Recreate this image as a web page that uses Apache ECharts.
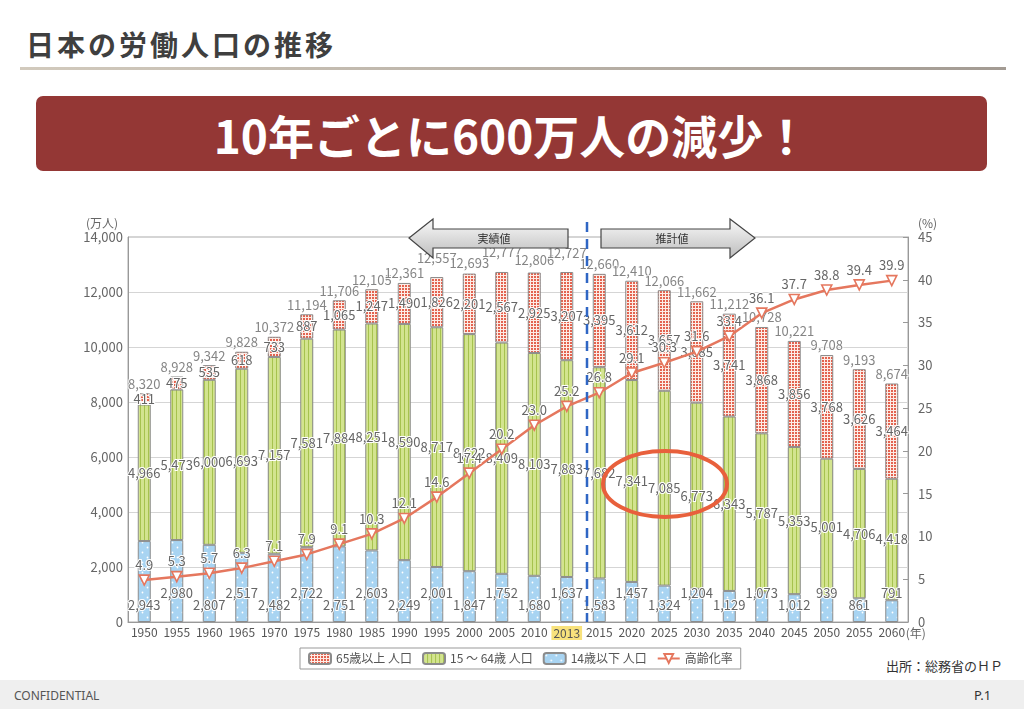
<!DOCTYPE html>
<html>
<head>
<meta charset="utf-8">
<title>日本の労働人口の推移</title>
<script src="https://cdn.jsdelivr.net/npm/echarts@6/dist/echarts.min.js"></script>
<style>
  html, body { margin: 0; padding: 0; background: #fff; }
  body { width: 1024px; height: 709px; position: relative; overflow: hidden;
         font-family: "Noto Sans CJK JP", "Noto Sans", sans-serif; }
  .title { position: absolute; left: 26px; top: 29px; font-size: 28px; line-height: 30px;
           font-weight: bold; color: #3f3f3f; letter-spacing: 3px; }
  .rule { position: absolute; left: 20px; top: 67px; width: 986px; height: 3px;
          background: linear-gradient(to right, #d2cabd, #a39b93); }
  .banner { position: absolute; left: 36px; top: 96px; width: 951px; height: 75px;
            background: #943735; border-radius: 7px; color: #fff; font-size: 46px;
            font-weight: bold; display: flex; align-items: center; justify-content: center; }
  .source { position: absolute; left: 886px; top: 656px; font-size: 13px; color: #333; }
  .footer { position: absolute; left: 0; top: 680px; width: 1024px; height: 29px; background: #efefef; }
  .conf { position: absolute; left: 14px; top: 687px; font-size: 12px; color: #555; font-family: "Noto Sans", sans-serif; }
  .page { position: absolute; left: 974px; top: 686px; font-size: 13px; color: #333; font-family: "Noto Sans", sans-serif; }
  #main { position: absolute; left: 0; top: 0; width: 1024px; height: 709px; }
</style>
</head>
<body>
<div class="title">日本の労働人口の推移</div>
<div class="rule"></div>
<div class="banner">10年ごとに600万人の減少！</div>
<div class="footer"></div>
<div class="conf">CONFIDENTIAL</div>
<div class="page">P.1</div>
<div class="source">出所：総務省のＨＰ</div>
<div id="main"></div>

<script type="text/javascript">
// 年
var years = ['1950', '1955', '1960', '1965', '1970', '1975', '1980', '1985', '1990', '1995',
             '2000', '2005', '2010', '2013', '2015', '2020', '2025', '2030', '2035', '2040',
             '2045', '2050', '2055', '2060'];
// 14歳以下 人口（万人）
var under14 = [2943, 2980, 2807, 2517, 2482, 2722, 2751, 2603, 2249, 2001,
               1847, 1752, 1680, 1637, 1583, 1457, 1324, 1204, 1129, 1073,
               1012, 939, 861, 791];
// 15～64歳 人口
var age15to64 = [4966, 5473, 6000, 6693, 7157, 7581, 7884, 8251, 8590, 8717,
                 8622, 8409, 8103, 7883, 7682, 7341, 7085, 6773, 6343, 5787,
                 5353, 5001, 4706, 4418];
// 65歳以上 人口
var over65 = [411, 475, 535, 618, 733, 887, 1065, 1247, 1490, 1826,
              2201, 2567, 2925, 3207, 3395, 3612, 3657, 3685, 3741, 3868,
              3856, 3768, 3626, 3464];
// 総人口
var totals = [8320, 8928, 9342, 9828, 10372, 11194, 11706, 12105, 12361, 12557,
              12693, 12777, 12806, 12727, 12660, 12410, 12066, 11662, 11212, 10728,
              10221, 9708, 9193, 8674];
// 高齢化率（%）
var agingRate = [4.9, 5.3, 5.7, 6.3, 7.1, 7.9, 9.1, 10.3, 12.1, 14.6,
                 17.4, 20.2, 23.0, 25.2, 26.8, 29.1, 30.3, 31.6, 33.4, 36.1,
                 37.7, 38.8, 39.4, 39.9];

var FONT = '"Noto Sans CJK JP", "Noto Sans", sans-serif';

// 塗りパターン
function pattern(w, h, draw) {
    var c = document.createElement('canvas');
    c.width = w; c.height = h;
    draw(c.getContext('2d'));
    return { image: c, repeat: 'repeat' };
}
var redFill = pattern(3, 3, function (g) {
    g.fillStyle = '#fdece6'; g.fillRect(0, 0, 3, 3);
    g.fillStyle = '#e3634f'; g.fillRect(0, 0, 2, 2);
});
var greenFill = pattern(4, 4, function (g) {
    g.fillStyle = '#d3e48f'; g.fillRect(0, 0, 4, 4);
    g.fillStyle = '#a6c24e'; g.fillRect(0, 0, 1, 4);
});
var blueFill = pattern(10, 10, function (g) {
    g.fillStyle = '#a8d4f2'; g.fillRect(0, 0, 10, 10);
    g.fillStyle = '#ffffff';
    g.beginPath(); g.arc(2.5, 2.5, 0.9, 0, Math.PI * 2); g.fill();
    g.beginPath(); g.arc(7.5, 7.5, 0.9, 0, Math.PI * 2); g.fill();
});

function fmt(v) { return Number(v).toLocaleString('en-US'); }

var labelBase = {
    show: true,
    color: '#666',
    fontSize: 13,
    fontFamily: FONT,
    textBorderColor: '#fff',
    textBorderWidth: 2,
    formatter: function (p) { return fmt(p.value); }
};

// 14歳以下のラベルは交互に高さをずらす
var under14Data = under14.map(function (v, i) {
    return { value: v, label: { distance: i % 2 ? 22 : 10 } };
});
// 総数ラベル：両隣と近いものだけ持ち上げる
var totalData = totals.map(function (v, i) {
    var raise = i % 2 === 1 && i > 0 && i < totals.length - 1 &&
        Math.abs(v - totals[i - 1]) < 300 && Math.abs(v - totals[i + 1]) < 300;
    return { value: v, label: { offset: [0, raise ? -9 : 0] } };
});

var barBorder = { borderColor: '#8c8c8c', borderWidth: 1 };

var chart = echarts.init(document.getElementById('main'), null, { renderer: 'canvas' });

var option = {
    animation: false,
    textStyle: { fontFamily: FONT },
    grid: {
        left: 128, right: 116, top: 237, bottom: 87,
        show: true, borderColor: '#aaa', borderWidth: 1
    },
    legend: {
        left: 300, top: 648,
        borderColor: '#999', borderWidth: 1,
        padding: [4, 8],
        itemGap: 10, itemWidth: 22, itemHeight: 11,
        textStyle: { fontSize: 12, color: '#555', fontFamily: FONT },
        data: ['65歳以上 人口', '15 ～ 64歳 人口', '14歳以下 人口', '高齢化率']
    },
    xAxis: {
        type: 'category',
        data: years,
        axisLine: { lineStyle: { color: '#999' } },
        axisTick: { inside: true, length: 4, lineStyle: { color: '#999' } },
        axisLabel: {
            margin: 4, fontSize: 12, color: '#555', interval: 0,
            formatter: function (v) { return v === '2013' ? '{hl|' + v + '}' : v; },
            rich: { hl: { backgroundColor: '#f8e27c', fontSize: 12, color: '#555', padding: [1, 2] } }
        }
    },
    yAxis: [{
        type: 'value',
        min: 0, max: 14000, interval: 2000,
        name: '(万人)',
        nameLocation: 'end',
        nameGap: 8,
        nameTextStyle: { fontSize: 12, color: '#666', align: 'right', padding: [0, 10, 0, 0] },
        axisLine: { show: true, lineStyle: { color: '#999' } },
        axisTick: { show: false },
        axisLabel: { margin: 5, fontSize: 13, color: '#666', formatter: fmt },
        splitLine: { lineStyle: { color: '#d5d5d5' } }
    }, {
        type: 'value',
        min: 0, max: 45, interval: 5,
        name: '(%)',
        nameLocation: 'end',
        nameGap: 8,
        nameTextStyle: { fontSize: 12, color: '#666', align: 'left', padding: [0, 0, 0, 10] },
        axisLine: { show: true, lineStyle: { color: '#999' } },
        axisTick: { show: true, inside: true, length: 5, lineStyle: { color: '#999' } },
        axisLabel: { margin: 10, fontSize: 13, color: '#666' },
        splitLine: { show: false }
    }],
    series: [{
        name: '14歳以下 人口',
        type: 'bar',
        stack: 'pop',
        barWidth: 13,
        data: under14Data,
        itemStyle: Object.assign({ color: blueFill }, barBorder),
        label: Object.assign({}, labelBase, { position: 'insideBottom' })
    }, {
        name: '15 ～ 64歳 人口',
        type: 'bar',
        stack: 'pop',
        barWidth: 13,
        data: age15to64,
        itemStyle: Object.assign({ color: greenFill }, barBorder),
        label: Object.assign({}, labelBase, { position: 'inside' })
    }, {
        name: '65歳以上 人口',
        type: 'bar',
        stack: 'pop',
        barWidth: 13,
        data: over65,
        itemStyle: Object.assign({ color: redFill }, barBorder),
        label: Object.assign({}, labelBase, { position: 'inside' })
    }, {
        name: '総数',
        type: 'scatter',
        data: totalData,
        symbolSize: 0,
        silent: true,
        label: Object.assign({}, labelBase, { position: 'top', distance: 3 })
    }, {
        name: '高齢化率',
        type: 'line',
        yAxisIndex: 1,
        data: agingRate,
        z: 5,
        symbol: 'triangle',
        symbolRotate: 180,
        symbolSize: 10,
        itemStyle: { color: '#fff', borderColor: '#e5775e', borderWidth: 1.6 },
        lineStyle: { color: '#e5775e', width: 2.5 },
        label: Object.assign({}, labelBase, {
            position: 'top', distance: 3,
            formatter: function (p) { return p.value.toFixed(1); }
        })
    }]
};
chart.setOption(option);

// 実績値と推計値の境界線・矢印・強調の楕円
var xa = chart.convertToPixel({ xAxisIndex: 0 }, '2013');
var xb = chart.convertToPixel({ xAxisIndex: 0 }, '2015');
var xLast = chart.convertToPixel({ xAxisIndex: 0 }, years[years.length - 1]);
var xm = (xa + xb) / 2 + 4;
var yBottom = chart.convertToPixel({ yAxisIndex: 0 }, 0);

var arrowFill = new echarts.graphic.LinearGradient(0, 0, 0, 1, [
    { offset: 0, color: '#fafafa' }, { offset: 1, color: '#bcbcbc' }
]);

chart.setOption({
    graphic: [{
        type: 'line', z: 50,
        shape: { x1: xm, y1: 222, x2: xm, y2: yBottom },
        style: { stroke: '#2f66c4', lineWidth: 2.5, lineDash: [10, 7] }
    }, {
        type: 'text', z: 50, x: xLast + 14, y: yBottom + 11,
        style: { text: '(年)', fill: '#666', font: '12px ' + FONT, align: 'left', verticalAlign: 'middle' }
    }, {
        type: 'polygon', z: 60,
        shape: { points: [[409, 238], [433, 219], [433, 229], [568, 229], [568, 248], [433, 248], [433, 258]] },
        style: { fill: arrowFill, stroke: '#444', lineWidth: 1.2 }
    }, {
        type: 'text', z: 61, x: 494, y: 239,
        style: { text: '実績値', fill: '#333', font: '11px ' + FONT, align: 'center', verticalAlign: 'middle' }
    }, {
        type: 'polygon', z: 60,
        shape: { points: [[601, 229], [730, 229], [730, 219], [755, 238], [730, 258], [730, 248], [601, 248]] },
        style: { fill: arrowFill, stroke: '#444', lineWidth: 1.2 }
    }, {
        type: 'text', z: 61, x: 672, y: 239,
        style: { text: '推計値', fill: '#333', font: '11px ' + FONT, align: 'center', verticalAlign: 'middle' }
    }, {
        type: 'ellipse', z: 70,
        shape: { cx: 665, cy: 484, rx: 62, ry: 33 },
        style: { fill: 'none', stroke: '#e8603c', lineWidth: 4 }
    }]
});
</script>
</body>
</html>
